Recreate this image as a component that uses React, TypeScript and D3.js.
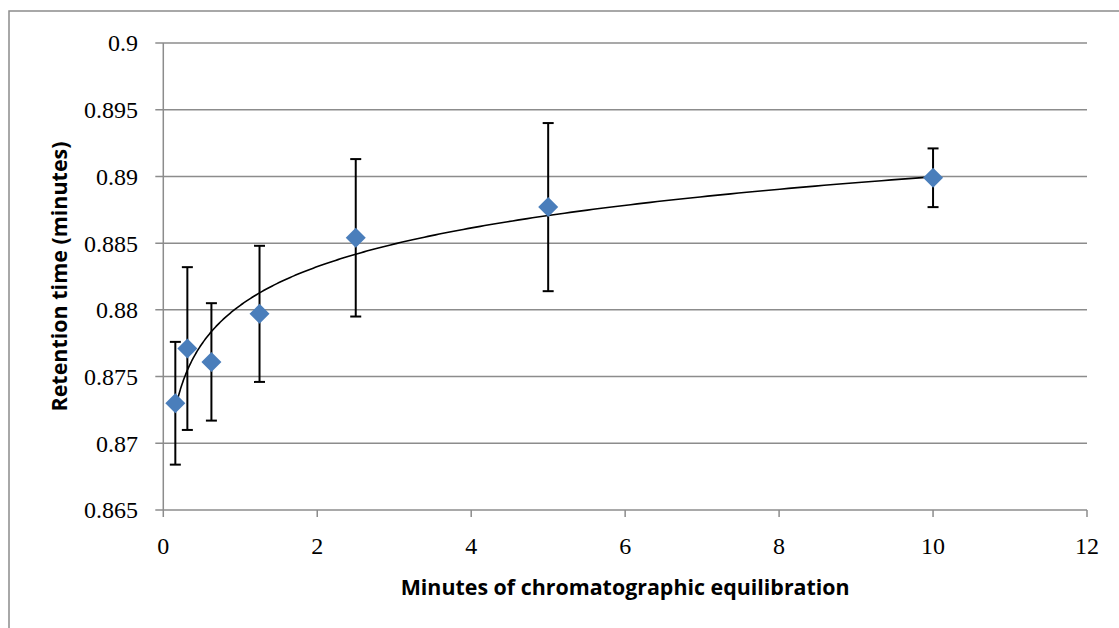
import React from "react";
import * as d3 from "d3";

const xValues = [0.15625, 0.3125, 0.625, 1.25, 2.5, 5, 10];
const yMeans = [0.873, 0.8771, 0.8761, 0.8797, 0.8854, 0.8877, 0.8899];
const yErrors = [0.0046, 0.0061, 0.0044, 0.0051, 0.0059, 0.0063, 0.0022];
const xTicks = [0, 2, 4, 6, 8, 10, 12];
const yTicks = [0.865, 0.87, 0.875, 0.88, 0.885, 0.89, 0.895, 0.9];
const xTitle = "Minutes of chromatographic equilibration";
const yTitle = "Retention time (minutes)";

export default function App() {
  const W = 1119;
  const H = 628;
  const x = d3.scaleLinear().domain([0, 12]).range([163.3, 1087]);
  const y = d3.scaleLinear().domain([0.865, 0.9]).range([510, 43]);

  // logarithmic least-squares trendline
  const lx = xValues.map((v) => Math.log(v));
  const mx = d3.mean(lx) as number;
  const my = d3.mean(yMeans) as number;
  let sxy = 0;
  let sxx = 0;
  lx.forEach((v, i) => {
    sxy += (v - mx) * (yMeans[i] - my);
    sxx += (v - mx) * (v - mx);
  });
  const a = sxy / sxx;
  const b = my - a * mx;
  const x0 = d3.min(xValues) as number;
  const x1 = d3.max(xValues) as number;
  const trendPts: [number, number][] = d3.range(0, 301).map((i) => {
    const xv = Math.exp(Math.log(x0) + (i / 300) * (Math.log(x1) - Math.log(x0)));
    return [xv, a * Math.log(xv) + b];
  });
  const line = d3
    .line<[number, number]>()
    .x((d) => x(d[0]))
    .y((d) => y(d[1]))
    .curve(d3.curveLinear);

  const grid = "#8c8c8c";
  const serif = "'Liberation Serif', 'DejaVu Serif', serif";
  const sans = "'Open Sans', 'Noto Sans', sans-serif";
  const yR = y.range();
  const xR = x.range();

  return (
    <svg
      width={W}
      height={H}
      style={{ position: "fixed", left: 0, top: 0, background: "#fff" }}
    >
      <rect x={0} y={0} width={W} height={H} fill="#fff" />
      <rect x={9} y={11} width={W + 20} height={H + 20} fill="none" stroke="#8c8c8c" strokeWidth={1.5} />

      {/* gridlines */}
      {yTicks.map((t) => (
        <line key={"g" + t} x1={xR[0] - 8} x2={xR[1]} y1={y(t)} y2={y(t)} stroke={grid} strokeWidth={1.5} />
      ))}
      {/* y axis */}
      <line x1={xR[0]} x2={xR[0]} y1={yR[1]} y2={yR[0]} stroke={grid} strokeWidth={1.5} />
      {/* x ticks */}
      {xTicks.map((t) => (
        <line key={"xt" + t} x1={x(t)} x2={x(t)} y1={yR[0]} y2={yR[0] + 7} stroke={grid} strokeWidth={1.5} />
      ))}
      {/* y tick labels */}
      {yTicks.map((t) => (
        <text
          key={"yl" + t}
          x={138}
          y={y(t)}
          dy="0.35em"
          textAnchor="end"
          fontFamily={serif}
          fontSize={24}
          fill="#000"
        >
          {String(t)}
        </text>
      ))}
      {/* x tick labels */}
      {xTicks.map((t) => (
        <text
          key={"xl" + t}
          x={x(t)}
          y={554}
          textAnchor="middle"
          fontFamily={serif}
          fontSize={24}
          fill="#000"
        >
          {String(t)}
        </text>
      ))}

      {/* trendline */}
      <path d={line(trendPts) || ""} fill="none" stroke="#000" strokeWidth={1.6} />

      {/* error bars */}
      {xValues.map((xv, i) => {
        const cx = x(xv);
        const top = y(yMeans[i] + yErrors[i]);
        const bot = y(yMeans[i] - yErrors[i]);
        return (
          <g key={"e" + i} stroke="#000" strokeWidth={2}>
            <line x1={cx} x2={cx} y1={top} y2={bot} />
            <line x1={cx - 5.5} x2={cx + 5.5} y1={top} y2={top} />
            <line x1={cx - 5.5} x2={cx + 5.5} y1={bot} y2={bot} />
          </g>
        );
      })}

      {/* markers */}
      {xValues.map((xv, i) => {
        const cx = x(xv);
        const cy = y(yMeans[i]);
        const r = 10;
        return (
          <path
            key={"m" + i}
            d={`M${cx},${cy - r}L${cx + r},${cy}L${cx},${cy + r}L${cx - r},${cy}Z`}
            fill="#4a7ebb"
          />
        );
      })}

      {/* axis titles */}
      <text
        x={(xR[0] + xR[1]) / 2}
        y={595}
        textAnchor="middle"
        fontFamily={sans}
        fontWeight="bold"
        fontSize={21}
        textLength={449}
        lengthAdjust="spacingAndGlyphs"
        fill="#000"
      >
        {xTitle}
      </text>
      <text
        transform={`translate(67,${(yR[0] + yR[1]) / 2}) rotate(-90)`}
        textAnchor="middle"
        fontFamily={sans}
        fontWeight="bold"
        fontSize={21}
        textLength={270}
        lengthAdjust="spacingAndGlyphs"
        fill="#000"
      >
        {yTitle}
      </text>
    </svg>
  );
}
